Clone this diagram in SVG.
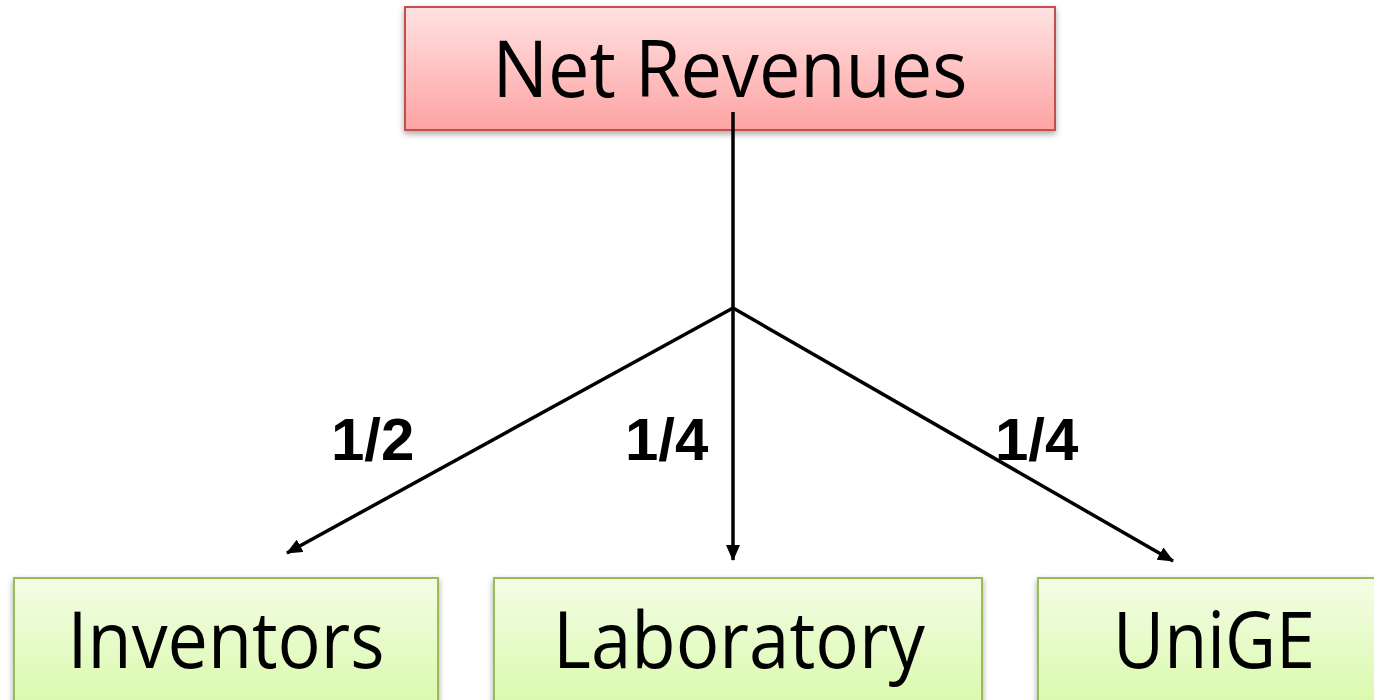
<svg xmlns="http://www.w3.org/2000/svg" width="1374" height="700" viewBox="0 0 1374 700">
<defs>
<linearGradient id="gRed" x1="0" y1="0" x2="0" y2="1"><stop offset="0" stop-color="#FFE2E2"/><stop offset="1" stop-color="#FEA3A3"/></linearGradient>
<linearGradient id="gGreen" x1="0" y1="0" x2="0" y2="1"><stop offset="0" stop-color="#F3FDE6"/><stop offset="1" stop-color="#D8F9A6"/></linearGradient>
<filter id="sh" x="-5%" y="-10%" width="110%" height="130%"><feDropShadow dx="0" dy="3" stdDeviation="3" flood-color="#000" flood-opacity="0.35"/></filter>
<marker id="arr" viewBox="0 0 16 14" refX="15" refY="7" markerWidth="16" markerHeight="14" orient="auto" markerUnits="userSpaceOnUse"><path d="M0,0 L16,7 L0,14 Z" fill="#000"/></marker>
<style>
.red{fill:url(#gRed);stroke:#C0504D;stroke-width:2;filter:url(#sh)}
.green{fill:url(#gGreen);stroke:#9BBB59;stroke-width:2;filter:url(#sh)}
.nt{font-family:"Open Sans","Noto Sans",sans-serif;font-size:78px;fill:#000;text-anchor:middle}
.lb{font-family:"Liberation Sans",Arial,sans-serif;font-weight:bold;font-size:60px;fill:#000}
.ln{stroke:#000;stroke-width:3.5;fill:none}
</style>
</defs>
<g id="net-revenues">
<rect class="red" x="405" y="7" width="650" height="123"/>
<text class="nt" x="730" y="97" textLength="475" lengthAdjust="spacingAndGlyphs">Net Revenues</text>
</g>
<g id="inventors">
<rect class="green" x="14" y="578" width="424" height="140"/>
<text class="nt" x="226" y="668" textLength="317" lengthAdjust="spacingAndGlyphs">Inventors</text>
</g>
<g id="laboratory">
<rect class="green" x="494" y="578" width="488" height="140"/>
<text class="nt" x="739" y="668" textLength="372" lengthAdjust="spacingAndGlyphs">Laboratory</text>
</g>
<g id="unige">
<rect class="green" x="1038" y="578" width="360" height="140"/>
<text class="nt" x="1214" y="668" textLength="202" lengthAdjust="spacingAndGlyphs">UniGE</text>
</g>
<g id="connectors">
<line class="ln" x1="733" y1="112" x2="733" y2="308"/>
<line class="ln" x1="733" y1="308" x2="733" y2="560" marker-end="url(#arr)"/>
<line class="ln" x1="733" y1="308" x2="287" y2="553" marker-end="url(#arr)"/>
<line class="ln" x1="733" y1="308" x2="1173" y2="561" marker-end="url(#arr)"/>
<text class="lb" x="331" y="460">1/2</text>
<text class="lb" x="625" y="460">1/4</text>
<text class="lb" x="995" y="460">1/4</text>
</g>
</svg>
